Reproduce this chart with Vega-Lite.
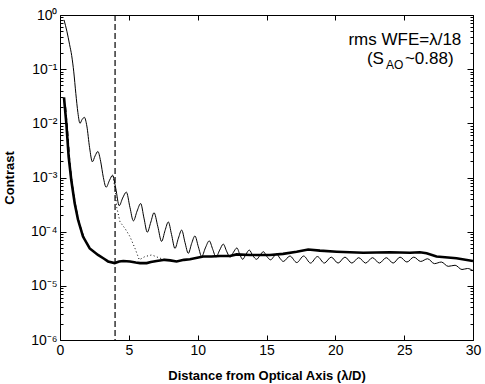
{
  "$schema": "https://vega.github.io/schema/vega-lite/v6.json",
  "width": 413,
  "height": 325,
  "autosize": {"type": "none"},
  "padding": {"left": 60, "top": 15, "right": 12, "bottom": 44},
  "background": "white",
  "config": {
    "view": {"stroke": "black", "strokeWidth": 1},
    "font": "Liberation Sans",
    "axis": {"grid": false, "domain": false, "tickColor": "black", "labelColor": "black", "titleColor": "black", "labelFont": "Liberation Sans", "titleFont": "Liberation Sans", "labelOverlap": false, "labelBound": false, "labelFlush": false}
  },
  "datasets": {
    "thin": [
      {"x": 0.29, "c": 0.813}, {"x": 0.5, "c": 0.501}, {"x": 0.7, "c": 0.282}, {"x": 0.85, "c": 0.178},
      {"x": 1.0, "c": 0.0891}, {"x": 1.15, "c": 0.0355}, {"x": 1.3, "c": 0.0158}, {"x": 1.45, "c": 0.0100},
      {"x": 1.6, "c": 0.0117}, {"x": 1.77, "c": 0.0129}, {"x": 1.95, "c": 0.00891}, {"x": 2.15, "c": 0.00355},
      {"x": 2.35, "c": 0.00195}, {"x": 2.55, "c": 0.00251}, {"x": 2.75, "c": 0.00302}, {"x": 2.95, "c": 0.00200},
      {"x": 3.15, "c": 0.00100}, {"x": 3.35, "c": 0.000661}, {"x": 3.6, "c": 0.000891}, {"x": 3.82, "c": 0.00110},
      {"x": 4.05, "c": 0.000631}, {"x": 4.3, "c": 0.000302}, {"x": 4.55, "c": 0.000417}, {"x": 4.82, "c": 0.000537},
      {"x": 5.08, "c": 0.000282}, {"x": 5.33, "c": 0.000158}, {"x": 5.6, "c": 0.000240}, {"x": 5.86, "c": 0.000331},
      {"x": 6.1, "c": 0.000178}, {"x": 6.34, "c": 0.0000977}, {"x": 6.6, "c": 0.000151}, {"x": 6.83, "c": 0.000224},
      {"x": 7.1, "c": 0.000126}, {"x": 7.38, "c": 0.0000661}, {"x": 7.63, "c": 0.000105}, {"x": 7.87, "c": 0.000151},
      {"x": 8.1, "c": 0.0000891}, {"x": 8.35, "c": 0.0000490}, {"x": 8.6, "c": 0.0000759}, {"x": 8.84, "c": 0.000107},
      {"x": 9.08, "c": 0.0000631}, {"x": 9.32, "c": 0.0000398}, {"x": 9.56, "c": 0.0000603}, {"x": 9.8, "c": 0.0000832},
      {"x": 10.05, "c": 0.0000525}, {"x": 10.29, "c": 0.0000347}, {"x": 10.56, "c": 0.0000501}, {"x": 10.84, "c": 0.0000676},
      {"x": 11.1, "c": 0.0000468}, {"x": 11.33, "c": 0.0000339}, {"x": 11.6, "c": 0.0000457}, {"x": 11.86, "c": 0.0000589},
      {"x": 12.1, "c": 0.0000437}, {"x": 12.35, "c": 0.0000339}, {"x": 12.6, "c": 0.0000417}, {"x": 12.85, "c": 0.0000501},
      {"x": 13.06, "c": 0.0000380}, {"x": 13.27, "c": 0.0000309}, {"x": 13.5, "c": 0.0000380}, {"x": 13.75, "c": 0.0000457},
      {"x": 14.0, "c": 0.0000363}, {"x": 14.28, "c": 0.0000309}, {"x": 14.52, "c": 0.0000363}, {"x": 14.77, "c": 0.0000427},
      {"x": 15.03, "c": 0.0000347}, {"x": 15.3, "c": 0.0000302}, {"x": 15.5, "c": 0.0000339}, {"x": 15.73, "c": 0.0000389},
      {"x": 15.97, "c": 0.0000324}, {"x": 16.22, "c": 0.0000282}, {"x": 16.7, "c": 0.0000355}, {"x": 17.2, "c": 0.0000269},
      {"x": 17.7, "c": 0.0000355}, {"x": 18.2, "c": 0.0000263}, {"x": 18.7, "c": 0.0000347}, {"x": 19.2, "c": 0.0000263},
      {"x": 19.7, "c": 0.0000339}, {"x": 20.2, "c": 0.0000263}, {"x": 20.7, "c": 0.0000339}, {"x": 21.2, "c": 0.0000263},
      {"x": 21.7, "c": 0.0000331}, {"x": 22.2, "c": 0.0000263}, {"x": 22.7, "c": 0.0000331}, {"x": 23.2, "c": 0.0000263},
      {"x": 23.7, "c": 0.0000331}, {"x": 24.2, "c": 0.0000263}, {"x": 24.7, "c": 0.0000339}, {"x": 25.2, "c": 0.0000275},
      {"x": 25.7, "c": 0.0000339}, {"x": 26.2, "c": 0.0000282}, {"x": 26.7, "c": 0.0000316}, {"x": 27.2, "c": 0.0000257},
      {"x": 27.7, "c": 0.0000275}, {"x": 28.2, "c": 0.0000229}, {"x": 28.7, "c": 0.0000240}, {"x": 29.2, "c": 0.0000200},
      {"x": 29.6, "c": 0.0000209}, {"x": 30.0, "c": 0.0000191}
    ],
    "thick": [
      {"x": 0.29, "c": 0.0302}, {"x": 0.46, "c": 0.0100}, {"x": 0.63, "c": 0.00240}, {"x": 0.82, "c": 0.000891},
      {"x": 1.07, "c": 0.000331}, {"x": 1.31, "c": 0.000166}, {"x": 1.67, "c": 0.0000813}, {"x": 2.16, "c": 0.0000490},
      {"x": 2.76, "c": 0.0000372}, {"x": 3.2, "c": 0.0000316}, {"x": 3.49, "c": 0.0000282}, {"x": 3.97, "c": 0.0000263},
      {"x": 4.3, "c": 0.0000282}, {"x": 4.6, "c": 0.0000288}, {"x": 5.08, "c": 0.0000282}, {"x": 5.5, "c": 0.0000269},
      {"x": 5.81, "c": 0.0000263}, {"x": 6.3, "c": 0.0000263}, {"x": 6.6, "c": 0.0000275}, {"x": 7.02, "c": 0.0000288},
      {"x": 7.62, "c": 0.0000302}, {"x": 8.0, "c": 0.0000295}, {"x": 8.47, "c": 0.0000282}, {"x": 9.0, "c": 0.0000302},
      {"x": 9.44, "c": 0.0000309}, {"x": 10.4, "c": 0.0000347}, {"x": 11.0, "c": 0.0000347}, {"x": 11.62, "c": 0.0000355},
      {"x": 12.35, "c": 0.0000355}, {"x": 12.83, "c": 0.0000380}, {"x": 13.8, "c": 0.0000372}, {"x": 15.25, "c": 0.0000372},
      {"x": 16.2, "c": 0.0000389}, {"x": 17.19, "c": 0.0000427}, {"x": 18.03, "c": 0.0000468}, {"x": 18.88, "c": 0.0000447},
      {"x": 20.1, "c": 0.0000427}, {"x": 22.03, "c": 0.0000407}, {"x": 23.96, "c": 0.0000417}, {"x": 25.42, "c": 0.0000407},
      {"x": 26.14, "c": 0.0000417}, {"x": 26.63, "c": 0.0000398}, {"x": 27.35, "c": 0.0000347}, {"x": 28.8, "c": 0.0000324},
      {"x": 30.0, "c": 0.0000288}
    ],
    "dotted": [
      {"x": 3.85, "c": 0.00107}, {"x": 4.02, "c": 0.000562}, {"x": 4.12, "c": 0.000282}, {"x": 4.36, "c": 0.000151},
      {"x": 4.72, "c": 0.000115}, {"x": 5.08, "c": 0.0000813}, {"x": 5.45, "c": 0.0000490}, {"x": 5.76, "c": 0.0000302},
      {"x": 6.17, "c": 0.0000347}, {"x": 6.66, "c": 0.0000372}, {"x": 7.26, "c": 0.0000324}, {"x": 7.8, "c": 0.0000302}
    ],
    "dashed": [
      {"x": 0.4, "c": 0.0200}, {"x": 0.55, "c": 0.00708}, {"x": 0.72, "c": 0.00178}, {"x": 0.9, "c": 0.000708},
      {"x": 1.15, "c": 0.000282}, {"x": 1.4, "c": 0.000141}, {"x": 1.75, "c": 0.0000760}
    ],
    "vline": [{"x": 4}],
    "note1": [{"x": 25.05, "c": 0.279, "t": "rms WFE=λ/18"}],
    "note2": [{"x": 23.53, "c": 0.124, "t": "(S"}],
    "note3": [{"x": 23.53, "c": 0.124, "t": "AO"}],
    "note4": [{"x": 23.53, "c": 0.124, "t": "~0.88)"}]
  },
  "resolve": {"axis": {"x": "independent", "y": "independent"}},
  "layer": [
    {
      "data": {"name": "thin"},
      "mark": {"type": "line", "color": "black", "strokeWidth": 1, "interpolate": "monotone", "clip": true},
      "encoding": {
        "x": {"field": "x", "type": "quantitative", "scale": {"domain": [0, 30], "nice": false, "zero": false},
          "axis": {"orient": "bottom", "values": [0, 5, 10, 15, 20, 25, 30], "tickSize": -5, "labelFontSize": 14, "labelPadding": 8,
            "title": "Distance from Optical Axis (λ/D)", "titleFontSize": 13, "titleFontWeight": "bold", "titlePadding": 12}},
        "y": {"field": "c", "type": "quantitative", "scale": {"type": "log", "domain": [0.000001, 1], "nice": false},
          "axis": {"orient": "left",
            "values": [0.000001,0.000002,0.000003,0.000004,0.000005,0.000006,0.000007,0.000008,0.000009,0.00001,0.00002,0.00003,0.00004,0.00005,0.00006,0.00007,0.00008,0.00009,0.0001,0.0002,0.0003,0.0004,0.0005,0.0006,0.0007,0.0008,0.0009,0.001,0.002,0.003,0.004,0.005,0.006,0.007,0.008,0.009,0.01,0.02,0.03,0.04,0.05,0.06,0.07,0.08,0.09,0.1,0.2,0.3,0.4,0.5,0.6,0.7,0.8,0.9,1],
            "tickSize": {"condition": {"test": "abs(log(datum.value)/LN10 - round(log(datum.value)/LN10)) < 0.000001", "value": -6}, "value": -3},
            "labelExpr": "abs(log(datum.value)/LN10 - round(log(datum.value)/LN10)) < 0.000001 ? '10' + ['⁰','⁻¹','⁻²','⁻³','⁻⁴','⁻⁵','⁻⁶'][abs(round(log(datum.value)/LN10))] : ''",
            "labelFontSize": 14, "labelPadding": 9,
            "title": "Contrast", "titleFontSize": 13, "titleFontWeight": "bold", "titlePadding": 14}}
      }
    },
    {
      "data": {"name": "thick"},
      "mark": {"type": "line", "color": "black", "strokeWidth": 2.6, "clip": true},
      "encoding": {
        "x": {"field": "x", "type": "quantitative",
          "axis": {"orient": "top", "values": [0, 5, 10, 15, 20, 25, 30], "tickSize": -5, "labels": false, "title": null}},
        "y": {"field": "c", "type": "quantitative",
          "axis": {"orient": "right",
            "values": [0.000001,0.000002,0.000003,0.000004,0.000005,0.000006,0.000007,0.000008,0.000009,0.00001,0.00002,0.00003,0.00004,0.00005,0.00006,0.00007,0.00008,0.00009,0.0001,0.0002,0.0003,0.0004,0.0005,0.0006,0.0007,0.0008,0.0009,0.001,0.002,0.003,0.004,0.005,0.006,0.007,0.008,0.009,0.01,0.02,0.03,0.04,0.05,0.06,0.07,0.08,0.09,0.1,0.2,0.3,0.4,0.5,0.6,0.7,0.8,0.9,1],
            "tickSize": {"condition": {"test": "abs(log(datum.value)/LN10 - round(log(datum.value)/LN10)) < 0.000001", "value": -6}, "value": -3},
            "labels": false, "title": null}}
      }
    },
    {
      "data": {"name": "dotted"},
      "mark": {"type": "line", "color": "black", "strokeWidth": 1, "strokeDash": [1, 2.5], "clip": true},
      "encoding": {
        "x": {"field": "x", "type": "quantitative", "axis": null},
        "y": {"field": "c", "type": "quantitative", "axis": null}
      }
    },
    {
      "data": {"name": "dashed"},
      "mark": {"type": "line", "color": "black", "strokeWidth": 1.3, "strokeDash": [5, 3], "clip": true},
      "encoding": {
        "x": {"field": "x", "type": "quantitative", "axis": null},
        "y": {"field": "c", "type": "quantitative", "axis": null}
      }
    },
    {
      "data": {"name": "vline"},
      "mark": {"type": "rule", "color": "black", "strokeWidth": 1.2, "strokeDash": [6, 3]},
      "encoding": {
        "x": {"field": "x", "type": "quantitative", "axis": null}
      }
    },
    {
      "data": {"name": "note1"},
      "mark": {"type": "text", "align": "center", "baseline": "alphabetic", "fontSize": 17, "font": "Liberation Sans", "color": "black"},
      "encoding": {
        "x": {"field": "x", "type": "quantitative", "axis": null},
        "y": {"field": "c", "type": "quantitative", "axis": null},
        "text": {"field": "t"}
      }
    },
    {
      "data": {"name": "note2"},
      "mark": {"type": "text", "align": "right", "baseline": "alphabetic", "fontSize": 17, "font": "Liberation Sans", "color": "black"},
      "encoding": {
        "x": {"field": "x", "type": "quantitative", "axis": null},
        "y": {"field": "c", "type": "quantitative", "axis": null},
        "text": {"field": "t"}
      }
    },
    {
      "data": {"name": "note3"},
      "mark": {"type": "text", "align": "left", "baseline": "alphabetic", "fontSize": 12, "dx": 2, "dy": 5, "font": "Liberation Sans", "color": "black"},
      "encoding": {
        "x": {"field": "x", "type": "quantitative", "axis": null},
        "y": {"field": "c", "type": "quantitative", "axis": null},
        "text": {"field": "t"}
      }
    },
    {
      "data": {"name": "note4"},
      "mark": {"type": "text", "align": "left", "baseline": "alphabetic", "fontSize": 17, "dx": 21, "font": "Liberation Sans", "color": "black"},
      "encoding": {
        "x": {"field": "x", "type": "quantitative", "axis": null},
        "y": {"field": "c", "type": "quantitative", "axis": null},
        "text": {"field": "t"}
      }
    }
  ]
}
